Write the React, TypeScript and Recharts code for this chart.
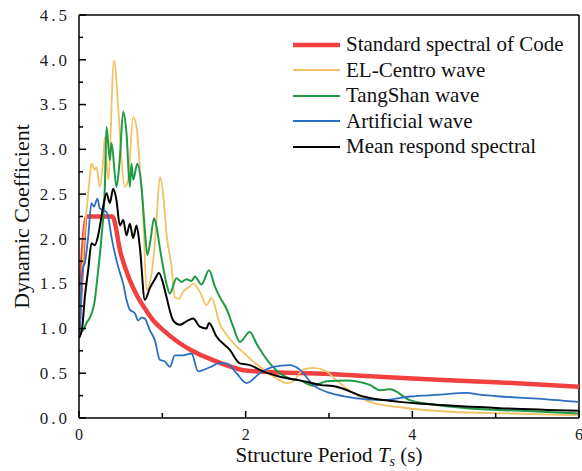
import { LineChart, Line, XAxis, YAxis, ReferenceLine, Legend } from 'recharts'

// Standard spectral of Code
const CODE_T = [0, 0.1, 0.4, 0.5, 0.6, 0.7, 0.8, 0.9, 1.0, 1.2, 1.4, 1.6, 1.8, 2.0, 3, 4, 5, 6]
const CODE_V = [1.1, 2.25, 2.25, 1.84, 1.56, 1.36, 1.21, 1.08, 0.99, 0.84, 0.73, 0.65, 0.58, 0.53, 0.49, 0.44, 0.4, 0.35]

// EL-Centro wave
const ELC_T = [0, 0.03, 0.06, 0.1, 0.13, 0.15, 0.19, 0.21, 0.25, 0.29, 0.31, 0.35, 0.42, 0.47, 0.51, 0.55, 0.59, 0.65, 0.69, 0.73, 0.77, 0.81, 0.89, 0.93, 0.97, 1.01, 1.05, 1.11, 1.15, 1.2, 1.25, 1.33, 1.37, 1.45, 1.53, 1.59, 1.69, 1.77, 1.89, 2.01, 2.09, 2.25, 2.41, 2.49, 2.57, 2.69, 2.81, 2.97, 3.09, 3.29, 3.49, 3.85, 4.45, 5.2, 6]
const ELC_V = [1.0, 1.5, 2.0, 2.4, 2.7, 2.84, 2.77, 2.8, 2.58, 2.88, 3.14, 2.66, 3.99, 3.48, 2.88, 2.58, 2.66, 3.36, 3.25, 2.81, 2.28, 1.43, 1.75, 2.2, 2.69, 2.5, 2.06, 1.69, 1.35, 1.33, 1.41, 1.47, 1.5, 1.41, 1.26, 1.34, 1.05, 0.93, 0.8, 0.7, 0.63, 0.52, 0.42, 0.39, 0.41, 0.54, 0.56, 0.52, 0.42, 0.28, 0.18, 0.12, 0.07, 0.05, 0.03]

// TangShan wave
const TS_T = [0, 0.05, 0.09, 0.13, 0.19, 0.23, 0.27, 0.31, 0.33, 0.37, 0.39, 0.45, 0.49, 0.53, 0.57, 0.61, 0.63, 0.65, 0.7, 0.75, 0.79, 0.82, 0.86, 0.9, 0.93, 0.97, 1.05, 1.09, 1.17, 1.23, 1.29, 1.35, 1.39, 1.47, 1.56, 1.63, 1.69, 1.77, 1.85, 1.93, 2.05, 2.13, 2.29, 2.41, 2.53, 2.65, 2.81, 2.97, 3.21, 3.49, 3.61, 3.73, 3.97, 4.25, 4.65, 5.3, 6]
const TS_V = [0.95, 0.98, 1.06, 1.12, 1.32, 1.65, 2.02, 2.58, 3.25, 2.88, 3.07, 2.58, 2.9, 3.42, 3.18, 2.58, 2.84, 2.66, 2.84, 2.58, 2.1, 1.82, 2.0, 2.23, 2.14, 1.9, 1.5, 1.39, 1.56, 1.52, 1.55, 1.53, 1.58, 1.49, 1.65, 1.47, 1.35, 1.22, 1.02, 0.85, 0.96, 0.83, 0.61, 0.5, 0.44, 0.42, 0.36, 0.41, 0.42, 0.37, 0.31, 0.32, 0.2, 0.15, 0.11, 0.08, 0.05]

// Artificial wave
const ART_T = [0, 0.01, 0.03, 0.05, 0.07, 0.11, 0.15, 0.18, 0.22, 0.25, 0.29, 0.33, 0.35, 0.39, 0.43, 0.47, 0.53, 0.57, 0.61, 0.67, 0.71, 0.75, 0.79, 0.85, 0.91, 0.97, 1.03, 1.09, 1.15, 1.25, 1.35, 1.43, 1.53, 1.6, 1.67, 1.77, 1.89, 2.01, 2.17, 2.33, 2.53, 2.65, 2.81, 3.09, 3.33, 3.65, 3.97, 4.33, 4.65, 4.81, 5.05, 5.45, 6]
const ART_V = [0.95, 0.98, 1.54, 1.68, 1.73, 2.02, 2.4, 2.36, 2.45, 2.34, 2.32, 2.3, 2.25, 2.02, 1.84, 1.69, 1.5, 1.32, 1.21, 1.17, 1.09, 1.12, 1.11, 0.98, 0.87, 0.65, 0.63, 0.57, 0.7, 0.7, 0.72, 0.52, 0.55, 0.58, 0.61, 0.61, 0.5, 0.39, 0.5, 0.57, 0.59, 0.54, 0.37, 0.26, 0.22, 0.2, 0.24, 0.26, 0.28, 0.26, 0.24, 0.22, 0.18]

// Mean respond spectral
const MEAN_T = [0, 0.01, 0.04, 0.07, 0.11, 0.15, 0.19, 0.23, 0.25, 0.29, 0.33, 0.37, 0.41, 0.45, 0.49, 0.53, 0.57, 0.61, 0.65, 0.69, 0.73, 0.79, 0.85, 0.91, 0.96, 1.01, 1.05, 1.13, 1.21, 1.29, 1.37, 1.45, 1.53, 1.56, 1.65, 1.81, 1.93, 2.05, 2.21, 2.41, 2.65, 2.89, 3.09, 3.41, 3.85, 4.25, 5.05, 6]
const MEAN_V = [0.9, 0.91, 1.02, 1.35, 1.65, 1.95, 1.93, 2.04, 2.14, 2.36, 2.51, 2.4, 2.56, 2.43, 2.15, 2.21, 2.04, 2.17, 2.01, 2.15, 1.91, 1.32, 1.45, 1.55, 1.62, 1.5, 1.35, 1.09, 1.04, 1.08, 1.11, 1.02, 1.0, 1.06, 0.91, 0.76, 0.61, 0.59, 0.52, 0.46, 0.42, 0.37, 0.35, 0.24, 0.18, 0.15, 0.11, 0.08]

const X_TICKS = [0, 1, 2, 3, 4, 5, 6]
const X_LABELED = [0, 2, 4, 6]
const Y_TICKS = [0, 0.25, 0.5, 0.75, 1, 1.25, 1.5, 1.75, 2, 2.25, 2.5, 2.75, 3, 3.25, 3.5, 3.75, 4, 4.25, 4.5]
const Y_LABELED = [0, 0.5, 1, 1.5, 2, 2.5, 3, 3.5, 4, 4.5]

const FONT = '"Liberation Serif", "Times New Roman", serif'

const pairs = (t: number[], v: number[]) => t.map((x, i) => ({ t: x, v: v[i] }))

const SERIES = [
  { name: 'Standard spectral of Code', data: pairs(CODE_T, CODE_V), color: '#F23F3F', width: 4.5 },
  { name: 'EL-Centro wave', data: pairs(ELC_T, ELC_V), color: '#F0C262', width: 1.8 },
  { name: 'TangShan wave', data: pairs(TS_T, TS_V), color: '#1F9A45', width: 2 },
  { name: 'Artificial wave', data: pairs(ART_T, ART_V), color: '#2A6EC2', width: 1.8 },
  { name: 'Mean respond spectral', data: pairs(MEAN_T, MEAN_V), color: '#000000', width: 2 },
]

const YTick = (props: any) => {
  const { x, y, payload } = props
  const labeled = Y_LABELED.includes(payload.value)
  return (
    <g>
      <line x1={x} x2={x + (labeled ? 7 : 4)} y1={y} y2={y} stroke="#000" strokeWidth={1.5} />
      {labeled && (
        <text x={x - 9} y={y} dy="0.34em" textAnchor="end" style={{ fontFamily: FONT }} fontSize={17} letterSpacing={3} fill="#222">
          {payload.value.toFixed(1)}
        </text>
      )}
    </g>
  )
}

const XTick = (props: any) => {
  const { x, y, payload } = props
  const labeled = X_LABELED.includes(payload.value)
  return (
    <g>
      <line x1={x} x2={x} y1={y} y2={y - (labeled ? 7 : 5)} stroke="#000" strokeWidth={1.5} />
      {labeled && (
        <text x={x} y={y + 22} textAnchor="middle" style={{ fontFamily: FONT }} fontSize={16} fill="#222">
          {payload.value}
        </text>
      )}
    </g>
  )
}

const XTitle = (props: any) => {
  const { x, y, width } = props.viewBox
  return (
    <text x={x + width / 2} y={y + 44} textAnchor="middle" style={{ fontFamily: FONT }} fontSize={21} fill="#111">
      Structure Period <tspan fontStyle="italic">T</tspan>
      <tspan fontStyle="italic" fontSize={14} dy={4}>s</tspan>
      <tspan dy={-4}> (s)</tspan>
    </text>
  )
}

const YTitle = (props: any) => {
  const { x, y, height } = props.viewBox
  const cx = x + 29
  const cy = y + height / 2
  return (
    <text x={cx} y={cy} transform={`rotate(-90 ${cx} ${cy})`} textAnchor="middle" style={{ fontFamily: FONT }} fontSize={22} fill="#111">
      Dynamic Coefficient
    </text>
  )
}

const renderLegend = () => (
  <div style={{ fontFamily: FONT, fontSize: 21, lineHeight: '25.5px', color: '#111' }}>
    {SERIES.map(s => (
      <div key={s.name} style={{ display: 'flex', alignItems: 'center', whiteSpace: 'nowrap' }}>
        <svg width={47} height={10}>
          <line x1={0} x2={47} y1={5} y2={5} stroke={s.color} strokeWidth={s.width} />
        </svg>
        <span style={{ marginLeft: 6 }}>{s.name}</span>
      </div>
    ))}
  </div>
)

export default function App() {
  return (
    <div style={{ position: 'absolute', left: 0, top: 0, background: '#fff' }}>
      <LineChart width={582} height={471} margin={{ top: 15, right: 3, left: 0, bottom: 0 }}>
        <XAxis
          dataKey="t"
          type="number"
          domain={[0, 6]}
          ticks={X_TICKS}
          interval={0}
          allowDataOverflow
          height={53}
          tickSize={0}
          tickMargin={0}
          tickLine={false}
          tick={<XTick />}
          axisLine={{ stroke: '#000', strokeWidth: 1.5 }}
          label={{ content: XTitle }}
        />
        <YAxis
          type="number"
          domain={[0, 4.5]}
          ticks={Y_TICKS}
          interval={0}
          allowDataOverflow
          width={79}
          tickSize={0}
          tickMargin={0}
          tickLine={false}
          tick={<YTick />}
          axisLine={{ stroke: '#000', strokeWidth: 1.5 }}
          label={{ content: YTitle }}
        />
        <ReferenceLine y={4.5} stroke="#000" strokeWidth={1.5} />
        <ReferenceLine x={6} stroke="#000" strokeWidth={1.5} />
        {SERIES.map(s => (
          <Line
            key={s.name}
            data={s.data}
            dataKey="v"
            name={s.name}
            type="monotone"
            stroke={s.color}
            strokeWidth={s.width}
            dot={false}
            activeDot={false}
            isAnimationActive={false}
          />
        ))}
        <Legend
          layout="vertical"
          align="center"
          verticalAlign="middle"
          content={renderLegend}
          wrapperStyle={{ position: 'absolute', left: 293, top: 32, width: 'auto', height: 'auto' }}
        />
      </LineChart>
    </div>
  )
}
